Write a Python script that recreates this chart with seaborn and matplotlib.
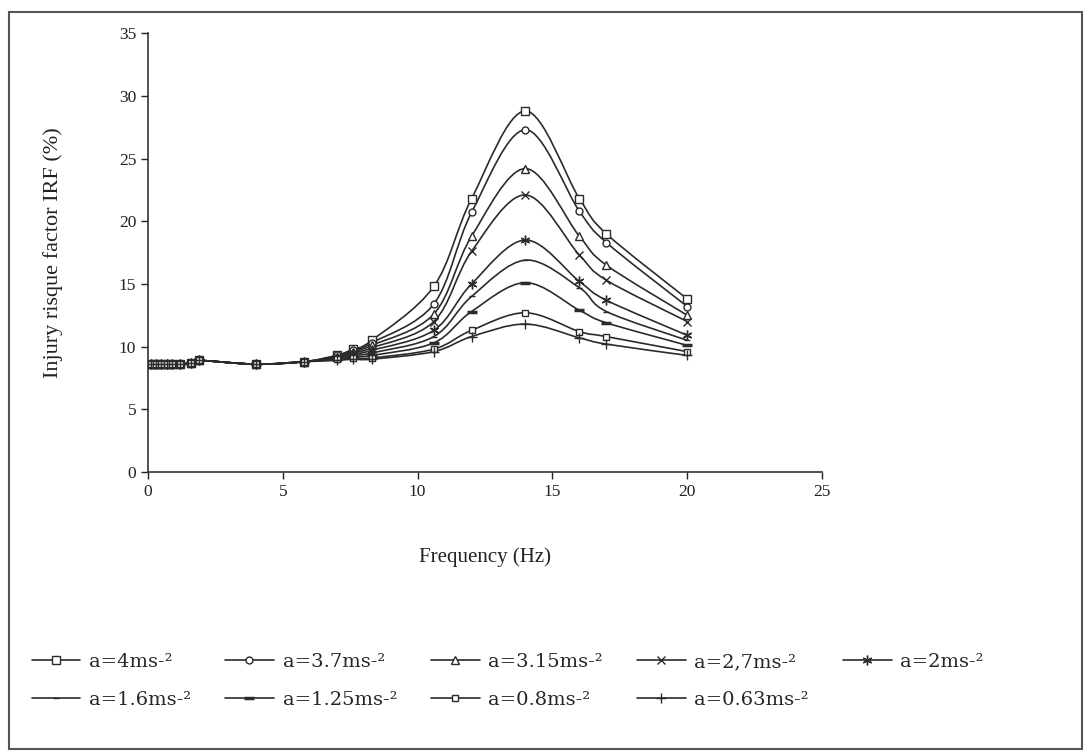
import numpy as np
import pandas as pd
import matplotlib
matplotlib.use("Agg")
import matplotlib.pyplot as plt
from matplotlib.path import Path
from matplotlib.patches import PathPatch, Rectangle
from matplotlib.lines import Line2D
import seaborn as sns

# ---------------- data ----------------
freq = [0.1, 0.3, 0.5, 0.7, 0.9, 1.2, 1.6, 1.9, 4.0, 5.8,
        7.0, 7.6, 8.3, 10.6, 12.0, 14.0, 16.0, 17.0, 20.0]

labels = ["a=4ms-²", "a=3.7ms-²", "a=3.15ms-²", "a=2,7ms-²", "a=2ms-²",
          "a=1.6ms-²", "a=1.25ms-²", "a=0.8ms-²", "a=0.63ms-²"]

irf_4 = [8.6, 8.6, 8.6, 8.6, 8.6, 8.6, 8.7, 8.9, 8.6, 8.8,
         9.3, 9.8, 10.5, 14.8, 21.8, 28.8, 21.8, 19.0, 13.8]
irf_37 = [8.6, 8.6, 8.6, 8.6, 8.6, 8.6, 8.7, 8.9, 8.6, 8.8,
          9.3, 9.7, 10.3, 13.4, 20.7, 27.3, 20.8, 18.3, 13.2]
irf_315 = [8.6, 8.6, 8.6, 8.6, 8.6, 8.6, 8.7, 8.9, 8.6, 8.8,
           9.2, 9.6, 10.1, 12.6, 18.8, 24.2, 18.8, 16.5, 12.5]
irf_27 = [8.6, 8.6, 8.6, 8.6, 8.6, 8.6, 8.7, 8.9, 8.6, 8.8,
          9.2, 9.5, 9.9, 12.0, 17.6, 22.1, 17.3, 15.3, 12.0]
irf_2 = [8.6, 8.6, 8.6, 8.6, 8.6, 8.6, 8.7, 8.9, 8.6, 8.8,
         9.1, 9.4, 9.7, 11.3, 15.0, 18.5, 15.2, 13.7, 10.9]
irf_16 = [8.6, 8.6, 8.6, 8.6, 8.6, 8.6, 8.7, 8.9, 8.6, 8.8,
          9.1, 9.3, 9.5, 10.8, 14.0, 16.9, 14.7, 12.8, 10.5]
irf_125 = [8.6, 8.6, 8.6, 8.6, 8.6, 8.6, 8.7, 8.9, 8.6, 8.8,
           9.0, 9.2, 9.3, 10.3, 12.8, 15.1, 12.9, 11.9, 10.1]
irf_08 = [8.6, 8.6, 8.6, 8.6, 8.6, 8.6, 8.7, 8.9, 8.6, 8.8,
          9.0, 9.1, 9.1, 9.8, 11.3, 12.7, 11.2, 10.8, 9.6]
irf_063 = [8.6, 8.6, 8.6, 8.6, 8.6, 8.6, 8.7, 8.9, 8.6, 8.8,
           8.9, 9.0, 9.0, 9.6, 10.8, 11.8, 10.7, 10.2, 9.3]

series = [irf_4, irf_37, irf_315, irf_27, irf_2, irf_16, irf_125, irf_08, irf_063]

x_ticks = [0, 5, 10, 15, 20, 25]
y_ticks = [0, 5, 10, 15, 20, 25, 30, 35]

# ---------------- styling ----------------
sns.set_theme(style="white")
plt.rcParams["font.family"] = ["Liberation Serif", "DejaVu Serif"]

markers = ["s", "o", "^", "x", (6, 2, 0), "_", "_", "s", "+"]
msizes = [6, 5, 6, 6, 7, 5, 7, 4.5, 7]
filled = [False, False, False, True, True, True, True, False, True]
mews = [1.0, 1.0, 1.0, 1.0, 1.0, 1.0, 2.5, 1.0, 1.0]
col = "#2b2b2b"

rows = []
for lab, ys in zip(labels, series):
    for f, v in zip(freq, ys):
        rows.append({"freq": f, "irf": v, "series": lab})
df = pd.DataFrame(rows)

fig = plt.figure(figsize=(10.89, 7.54), dpi=100)
ax = fig.add_axes([0.1359, 0.374, 0.619, 0.582])


def smooth_path(xs, ys):
    xs = np.asarray(xs, float)
    ys = np.asarray(ys, float)
    pts = np.column_stack([xs, ys])
    n = len(pts)
    verts = [pts[0]]
    codes = [Path.MOVETO]
    for i in range(n - 1):
        p0 = pts[i - 1] if i > 0 else pts[i]
        p1 = pts[i]
        p2 = pts[i + 1]
        p3 = pts[i + 2] if i + 2 < n else pts[i + 1]
        c1 = p1 + (p2 - p0) / 6.0
        c2 = p2 - (p3 - p1) / 6.0
        verts += [c1, c2, p2]
        codes += [Path.CURVE4] * 3
    return Path(verts, codes)


handles = []
for i, lab in enumerate(labels):
    sub = df[df["series"] == lab]
    ax.add_patch(PathPatch(smooth_path(sub["freq"], sub["irf"]), fill=False,
                           edgecolor=col, lw=1.2, zorder=2))
    face = col if filled[i] else "white"
    sns.lineplot(data=sub, x="freq", y="irf", ax=ax, linestyle="none",
                 marker=markers[i], markersize=msizes[i], markerfacecolor=face,
                 markeredgecolor=col, markeredgewidth=mews[i], color=col,
                 zorder=3, legend=False, estimator=None)
    handles.append(Line2D([0], [0], color=col, lw=1.2, marker=markers[i],
                          markersize=msizes[i], markerfacecolor=face,
                          markeredgecolor=col, markeredgewidth=mews[i]))

ax.set_xlim(0, 25)
ax.set_ylim(0, 35)
ax.set_xticks(x_ticks)
ax.set_yticks(y_ticks)
ax.tick_params(axis="both", direction="out", length=5, width=1, colors="#222",
               labelsize=12.5, left=True, bottom=True)
for s in ["top", "right"]:
    ax.spines[s].set_visible(False)
for s in ["left", "bottom"]:
    ax.spines[s].set_color("#333")
    ax.spines[s].set_linewidth(1.2)
ax.set_xlabel("Frequency (Hz)", fontsize=15, labelpad=34, color="#222")
ax.set_ylabel("Injury risque factor IRF (%)", fontsize=16, labelpad=40, color="#222")

# legend filled row by row (matplotlib fills column-wise)
order = [0, 5, 1, 6, 2, 7, 3, 8, 4]
leg = fig.legend([handles[k] for k in order], [labels[k] for k in order],
                 loc="center left", bbox_to_anchor=(0.013, 0.097),
                 ncol=5, frameon=False, handlelength=2.5,
                 handletextpad=0.45, columnspacing=1.75, labelspacing=1.0,
                 numpoints=1, prop={"family": ["DejaVu Serif"], "size": 14})

fig.patches.append(Rectangle((0.008, 0.006), 0.986, 0.978, transform=fig.transFigure,
                             fill=False, edgecolor="#555", lw=1.5))

fig.savefig("out.png", dpi=100, facecolor="white")
